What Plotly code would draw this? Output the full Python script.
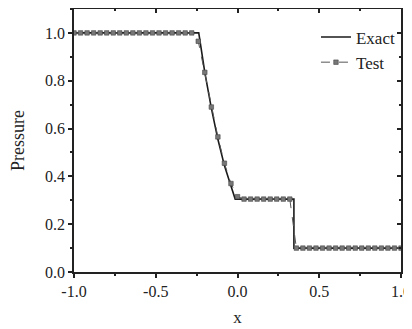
import plotly.graph_objects as go

# Exact solution
exact_x = [-1.0, -0.237, -0.2, -0.16, -0.12, -0.08, -0.04, -0.014, 0.345, 0.345, 1.0]
exact_p = [1.0, 1.0, 0.835, 0.685, 0.555, 0.445, 0.36, 0.305, 0.305, 0.1, 0.1]

# Test (numerical) solution, markers every 0.04
test_x = [round(-1.0 + 0.04 * i, 2) for i in range(51)]
test_p = ([1.0] * 19 +
          [0.965, 0.835, 0.69, 0.565, 0.455, 0.37, 0.315] +
          [0.305] * 8 +
          [0.1] * 17)

FONT = "Liberation Serif"

fig = go.Figure()
fig.add_trace(go.Scatter(x=exact_x, y=exact_p, mode="lines", name="Exact",
                         line=dict(color="#1a1a1a", width=1.6)))
fig.add_trace(go.Scatter(x=test_x, y=test_p, mode="lines+markers", name="Test",
                         line=dict(color="#555555", width=1, dash="dash"),
                         marker=dict(symbol="square", size=4.5, color="#777777",
                                     line=dict(color="#444444", width=0.6))))

axis_common = dict(showline=True, linecolor="#222", linewidth=1.6, showgrid=False,
                   zeroline=False, automargin=False, tickwidth=1.5, tickcolor="#222")

# page body has an 8px margin, so the figure is 8px smaller and offset accordingly
fig.update_layout(
    width=404, height=321,
    margin=dict(l=66, r=11, t=1, b=57),
    paper_bgcolor="white", plot_bgcolor="white",
    font=dict(family=FONT, size=16, color="#222222"),
    showlegend=True,
    legend=dict(x=0.74, y=0.96, xanchor="left", yanchor="top",
                bgcolor="rgba(0,0,0,0)", font=dict(family=FONT, size=17),
                tracegroupgap=0, itemwidth=30),
    xaxis=dict(range=[-1.0, 1.0], tickvals=[-1.0, -0.5, 0.0, 0.5, 1.0],
               ticktext=["-1.0", "-0.5", "0.0", "0.5", "1.0"],
               ticks="outside", ticklen=4,
               minor=dict(dtick=0.25, tick0=-1, ticks="outside", ticklen=2, tickcolor="#222"),
               title=dict(text="x", font=dict(family=FONT, size=17), standoff=12),
               tickfont=dict(family=FONT, size=16), **axis_common),
    yaxis=dict(range=[0, 1.1], tickvals=[0, 0.2, 0.4, 0.6, 0.8, 1.0],
               ticktext=["0.0", "0.2", "0.4", "0.6", "0.8", "1.0"],
               ticks="outside", ticklen=4,
               minor=dict(dtick=0.1, tick0=0, ticks="outside", ticklen=2, tickcolor="#222"),
               title=dict(text="Pressure", font=dict(family=FONT, size=18), standoff=18),
               tickfont=dict(family=FONT, size=16), **axis_common),
    xaxis2=dict(range=[-1.0, 1.0], overlaying="x", side="top", anchor="y",
                tickvals=[-1.0, -0.5, 0.0, 0.5, 1.0], showticklabels=False,
                ticks="inside", ticklen=4,
                minor=dict(dtick=0.25, tick0=-1, ticks="inside", ticklen=2, tickcolor="#222"),
                **axis_common),
    yaxis2=dict(range=[0, 1.1], overlaying="y", side="right", anchor="x",
                tickvals=[0, 0.2, 0.4, 0.6, 0.8, 1.0], showticklabels=False,
                ticks="inside", ticklen=4,
                minor=dict(dtick=0.1, tick0=0, ticks="inside", ticklen=2, tickcolor="#222"),
                **axis_common),
)
# invisible trace to activate secondary axes
fig.add_trace(go.Scatter(x=[-1.0], y=[0], xaxis="x2", yaxis="y2", mode="markers",
                         marker=dict(opacity=0), showlegend=False, hoverinfo="skip"))

fig.write_html("out.html")
